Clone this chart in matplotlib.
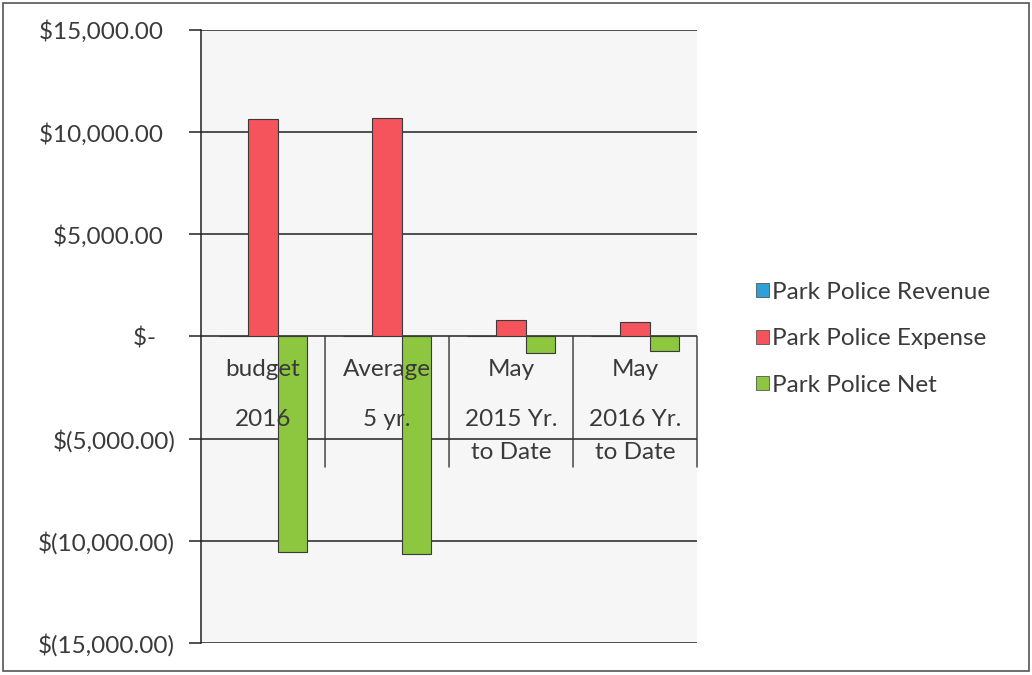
import matplotlib.pyplot as plt
import numpy as np
from matplotlib.patches import Rectangle

categories = [('budget', '2016', ''), ('Average', '5 yr.', ''),
              ('May', '2015 Yr.', 'to Date'), ('May', '2016 Yr.', 'to Date')]
series_names = ['Park Police Revenue', 'Park Police Expense', 'Park Police Net']
revenue = [0, 0, 0, 0]
expense = [10650, 10680, 790, 690]
net = [-10530, -10650, -790, -700]
y_ticks = [15000, 10000, 5000, 0, -5000, -10000, -15000]

colors = ['#2f9fd8', '#f5545c', '#8dc63f']
text_color = '#3a3a3a'
fs = 17.5
plt.rcParams['font.family'] = ['Lato', 'DejaVu Sans']


def money(v):
    # accounting style, positives padded like Excel's _) spacing
    if v == 0:
        return '$-   '
    if v < 0:
        return f'$({abs(v):,.2f})'
    return f'${v:,.2f}  '


fig = plt.figure(figsize=(10.32, 6.75), dpi=100)
fig.patch.set_facecolor('white')
fig.add_artist(Rectangle((0.003, 0.006), 0.994, 0.99, transform=fig.transFigure,
                         fill=False, edgecolor='#555555', linewidth=1.2))
ax = fig.add_axes([0.1948, 0.0474, 0.4806, 0.9082])
ax.set_facecolor('#f6f6f6')

x = np.arange(len(categories))
w = 0.235
for (k, (vals, col)) in enumerate(zip([revenue, expense, net], colors)):
    ax.bar(x + (k - 1) * w, vals, width=w, color=col, edgecolor='#3a3a3a',
           linewidth=0.8, zorder=3, label=series_names[k])

ax.set_xlim(-0.5, len(categories) - 0.5)
ax.set_ylim(-15000, 15000)
ax.set_yticks(y_ticks)
ax.set_yticklabels([money(v) for v in y_ticks], fontsize=fs, color=text_color)
for v in y_ticks:
    ax.axhline(v, color='#222222', linewidth=1.1, zorder=1)
ax.set_xticks([])
for s in ['top', 'right', 'bottom']:
    ax.spines[s].set_visible(False)
ax.spines['left'].set_color('#222222')
ax.spines['left'].set_linewidth(1.1)
ax.tick_params(axis='y', length=8.6, width=1.1, color='#222222', pad=10)

# category separators hanging below the zero line
for b in np.arange(0.5, len(categories), 1.0):
    ax.annotate('', xy=(b, 0), xytext=(b, -94), textcoords=('data', 'offset points'),
                arrowprops=dict(arrowstyle='-', color='#333333', linewidth=1.0,
                                shrinkA=0, shrinkB=0), zorder=2)

for (i, (l1, l2, l3)) in enumerate(categories):
    ax.annotate(l1, xy=(i, 0), xytext=(0, -24), textcoords='offset points',
                ha='center', va='center', fontsize=fs, color=text_color, zorder=4)
    ax.annotate(l2, xy=(i, 0), xytext=(0, -60), textcoords='offset points',
                ha='center', va='center', fontsize=fs, color=text_color, zorder=4)
    if l3:
        ax.annotate(l3, xy=(i, 0), xytext=(0, -83.5), textcoords='offset points',
                    ha='center', va='center', fontsize=fs, color=text_color, zorder=4)

handles = [Rectangle((0, 0), 1, 1, facecolor=c, edgecolor='#555555', linewidth=0.6) for c in colors]
leg = fig.legend(handles, series_names, loc='center left', bbox_to_anchor=(0.733, 0.498),
                 frameon=False, fontsize=fs, handlelength=0.5, handleheight=0.5,
                 handletextpad=0.15, labelspacing=1.05, labelcolor=text_color,
                 borderpad=0, borderaxespad=0)

plt.savefig('out.png', dpi=100, facecolor='white')
plt.close()
